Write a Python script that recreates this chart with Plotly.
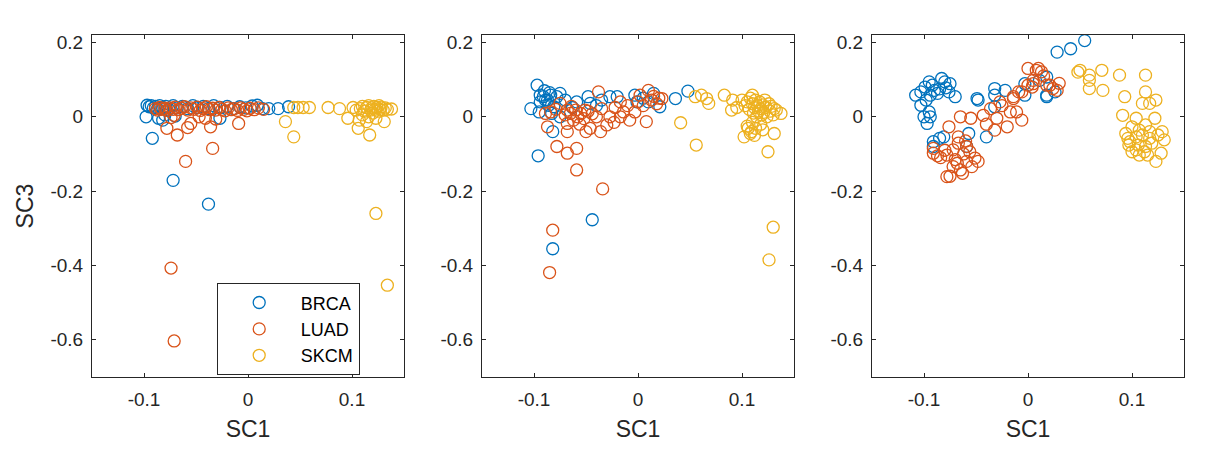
import plotly.graph_objects as go

# ---------------- data ----------------
series_names = ["BRCA", "LUAD", "SKCM"]
series_colors = ["#0072BD", "#D95319", "#EDB120"]

# Panel 1
p1_brca_x = [-0.097, -0.095, -0.093, -0.091, -0.089, -0.087, -0.085, -0.082, -0.079, -0.076, -0.072, -0.068,
             -0.063, -0.058, -0.053, -0.048, -0.043, -0.038, -0.033, -0.027, -0.020, -0.014, -0.008, -0.002,
             0.004, 0.009, 0.014, 0.020, 0.029, 0.039,
             -0.098, -0.086, -0.082, -0.080, -0.027, -0.070, -0.092, -0.072, -0.038]
p1_brca_y = [0.031, 0.027, 0.030, 0.024, 0.028, 0.022, 0.030, 0.025, 0.028, 0.020, 0.030, 0.024,
             0.028, 0.022, 0.030, 0.025, 0.028, 0.022, 0.030, 0.025, 0.028, 0.022, 0.027, 0.024,
             0.029, 0.031, 0.022, 0.022, 0.022, 0.027,
             0.000, -0.004, -0.009, 0.005, -0.004, 0.002, -0.058, -0.171, -0.235]

p1_luad_x = [-0.089, -0.087, -0.085, -0.083, -0.080, -0.078, -0.075, -0.072, -0.070, -0.067, -0.064, -0.061,
             -0.058, -0.055, -0.052, -0.049, -0.046, -0.043, -0.040, -0.037, -0.034, -0.031, -0.028, -0.025,
             -0.022, -0.019, -0.016, -0.013, -0.010, -0.007, -0.004, -0.001, 0.002, 0.006, 0.010, 0.015,
             -0.074, -0.071, -0.047, -0.041, -0.055, -0.078, -0.068, -0.058, -0.036, -0.034, -0.060, -0.009,
             -0.031, -0.074, -0.071]
p1_luad_y = [0.022, 0.018, 0.025, 0.020, 0.023, 0.017, 0.024, 0.020, 0.026, 0.019, 0.023, 0.027,
             0.018, 0.024, 0.020, 0.026, 0.017, 0.022, 0.027, 0.019, 0.023, 0.018, 0.025, 0.020,
             0.016, 0.024, 0.019, 0.022, 0.017, 0.024, 0.020, 0.016, 0.023, 0.019, 0.024, 0.020,
             -0.002, 0.004, 0.000, -0.004, -0.018, -0.031, -0.049, -0.029, -0.027, -0.085, -0.120, -0.018,
             -0.006, -0.407, -0.603]

p1_skcm_x = [0.036, 0.044, 0.044, 0.048, 0.053, 0.059, 0.077, 0.088, 0.096, 0.101, 0.104, 0.106, 0.107,
             0.108, 0.110, 0.112, 0.114, 0.114, 0.116, 0.117, 0.118, 0.119, 0.120, 0.121, 0.122, 0.123,
             0.124, 0.125, 0.126, 0.127, 0.128, 0.130, 0.131, 0.132, 0.134, 0.138, 0.110, 0.116, 0.123, 0.134]
p1_skcm_y = [-0.013, -0.054, 0.025, 0.025, 0.025, 0.025, 0.025, 0.022, -0.004, 0.025, 0.018, -0.031, -0.009,
             0.022, 0.028, 0.015, -0.013, 0.025, 0.030, -0.049, 0.018, 0.024, 0.010, 0.028, 0.020, -0.004,
             0.025, 0.015, 0.030, 0.020, 0.026, 0.018, -0.013, 0.024, 0.020, 0.021, 0.005, 0.000, -0.260, -0.453]

# Panel 2
p2_brca_x = [-0.097, -0.094, -0.091, -0.087, -0.094, -0.103, -0.095, -0.084, -0.078, -0.075, -0.070, -0.081,
             -0.059, -0.048, -0.046, -0.027, -0.020, -0.003, -0.001, 0.015, 0.021, -0.082, -0.096, 0.036,
             0.048, -0.089, -0.086, -0.083, -0.075, -0.063, -0.040, -0.035, 0.005, 0.010, -0.090, -0.085,
             -0.082, -0.044]
p2_brca_y = [0.085, 0.058, 0.054, 0.045, 0.040, 0.022, 0.013, 0.058, 0.054, 0.063, 0.045, 0.027,
             0.040, 0.054, 0.036, 0.054, 0.054, 0.058, 0.040, 0.063, 0.027, -0.040, -0.105, 0.049,
             0.069, 0.045, 0.031, 0.009, 0.000, 0.025, 0.030, 0.045, 0.050, 0.040, 0.070, 0.065,
             -0.355, -0.277]

p2_luad_x = [-0.038, -0.089, -0.084, -0.075, -0.068, -0.065, -0.060, -0.055, -0.051, -0.062, -0.068, -0.087,
             -0.068, -0.046, -0.036, -0.030, -0.035, -0.040, -0.027, -0.017, -0.014, -0.017, -0.008, 0.000,
             0.002, 0.008, 0.010, 0.013, 0.023, -0.003, -0.078, -0.068, -0.059, -0.059, -0.034, -0.082,
             -0.085, -0.070, -0.058, -0.052, -0.048, -0.044, -0.022, -0.010, 0.005, 0.015, 0.018, 0.020,
             -0.064, -0.079, -0.023, -0.056, -0.050]
p2_luad_y = [0.067, 0.009, 0.013, 0.036, 0.018, 0.009, 0.018, 0.009, 0.018, -0.009, -0.018, -0.027,
             -0.040, -0.031, -0.040, -0.022, 0.022, 0.000, 0.000, 0.040, 0.013, 0.000, -0.009, 0.040,
             0.058, -0.013, 0.071, 0.045, 0.049, 0.013, -0.080, -0.098, -0.085, -0.143, -0.194, -0.305,
             -0.419, 0.005, 0.000, -0.005, 0.015, 0.008, 0.025, 0.030, 0.030, 0.055, 0.035, 0.050,
             0.028, 0.020, -0.015, -0.020, -0.040]

p2_skcm_x = [0.055, 0.061, 0.066, 0.068, 0.083, 0.041, 0.056, 0.091, 0.090, 0.102, 0.125, 0.131, 0.131,
             0.133, 0.1375, 0.109, 0.113, 0.106,
             0.100, 0.103, 0.105, 0.107, 0.108, 0.110, 0.111, 0.112, 0.113, 0.114, 0.115, 0.116, 0.117,
             0.118, 0.119, 0.120, 0.121, 0.122, 0.123, 0.124, 0.126, 0.127, 0.128, 0.130, 0.110, 0.105,
             0.108, 0.118, 0.112, 0.120, 0.095, 0.110, 0.130, 0.126]
p2_skcm_y = [0.054, 0.058, 0.049, 0.036, 0.058, -0.016, -0.076, 0.045, 0.018, -0.054, -0.094, -0.045, 0.022,
             0.018, 0.009, -0.040, -0.031, -0.031,
             0.045, 0.030, 0.040, 0.020, 0.050, 0.035, 0.010, 0.025, 0.045, 0.000, 0.030, 0.015, 0.040,
             0.022, 0.005, 0.032, 0.012, 0.045, 0.025, 0.000, 0.035, 0.015, 0.028, 0.005, -0.015, -0.025,
             -0.045, -0.020, -0.050, -0.035, 0.025, 0.058, -0.297, -0.385]

# Panel 3
p3_brca_x = [0.028, 0.041, 0.0545,
             -0.108, -0.103, -0.099, -0.095, -0.098, -0.094, -0.090, -0.087, -0.083, -0.080, -0.075, -0.070,
             -0.076, -0.103, -0.100, -0.097, -0.094, -0.095, -0.092, -0.085, -0.079,
             -0.091, -0.085, -0.081, -0.091, -0.057, -0.040, -0.059,
             -0.049, -0.048, -0.032, -0.032, -0.022, -0.032, -0.003, -0.003, 0.018, 0.018, 0.011, 0.026, 0.018]
p3_brca_y = [0.174, 0.183, 0.205,
             0.058, 0.067, 0.080, 0.094, 0.045, 0.058, 0.071, 0.063, 0.103, 0.094, 0.089, 0.054,
             0.067, 0.031, 0.000, -0.018, 0.000, 0.013, 0.085, 0.075, 0.078,
             -0.067, -0.058, -0.054, -0.080, -0.045, -0.054, -0.080,
             0.049, 0.045, 0.076, 0.058, 0.071, 0.027, 0.089, 0.058, 0.107, 0.058, 0.098, 0.067, 0.054]

p3_luad_x = [-0.078, -0.063, -0.091, -0.091, -0.078, -0.072, -0.067, -0.067, -0.059, -0.056, -0.051, -0.059,
             -0.068, -0.072, -0.065, -0.054, -0.076, -0.065, -0.055, -0.043, -0.036, -0.030, -0.032, -0.020,
             -0.017, -0.011, -0.006, -0.027, -0.014, -0.009, 0.000, 0.008, 0.005, 0.018, 0.024, 0.028,
             0.004, 0.000, 0.010, 0.013, 0.005, 0.021, -0.006, -0.014,
             -0.084, -0.080, -0.062, -0.070, -0.048, -0.060, -0.040, -0.025, 0.015, 0.030, -0.087, -0.075]
p3_luad_y = [-0.161, -0.152, -0.098, -0.085, -0.103, -0.089, -0.071, -0.054, -0.080, -0.094, -0.111, -0.120,
             -0.125, -0.134, -0.143, -0.134, -0.027, 0.000, -0.004, 0.004, 0.022, -0.004, -0.036, -0.027,
             0.013, 0.013, -0.009, 0.040, 0.049, 0.067, 0.130, 0.125, 0.098, 0.085, 0.076, 0.071,
             0.080, 0.085, 0.130, 0.121, 0.089, 0.085, 0.067, 0.054,
             -0.110, -0.090, -0.100, -0.115, -0.120, -0.065, -0.020, 0.030, 0.110, 0.090, -0.105, -0.160]

p3_skcm_x = [0.050, 0.059, 0.059, 0.059, 0.071, 0.072, 0.088, 0.113, 0.093, 0.113, 0.123, 0.117, 0.110,
             0.091, 0.104, 0.122, 0.113, 0.100, 0.096, 0.098, 0.104, 0.110, 0.117, 0.125, 0.131, 0.129,
             0.106, 0.113, 0.119, 0.128, 0.112, 0.104, 0.123, 0.094, 0.107, 0.117, 0.097, 0.100, 0.107,
             0.115, 0.048]
p3_skcm_y = [0.125, 0.112, 0.098, 0.076, 0.125, 0.071, 0.112, 0.112, 0.054, 0.067, 0.045, 0.036, 0.036,
             0.004, -0.004, -0.004, -0.022, -0.027, -0.058, -0.067, -0.054, -0.049, -0.058, -0.049, -0.062,
             -0.040, -0.076, -0.080, -0.071, -0.098, -0.094, -0.089, -0.120, -0.045, -0.036, -0.040, -0.076,
             -0.094, -0.103, -0.103, 0.120]

panels = [
    [(p1_brca_x, p1_brca_y), (p1_luad_x, p1_luad_y), (p1_skcm_x, p1_skcm_y)],
    [(p2_brca_x, p2_brca_y), (p2_luad_x, p2_luad_y), (p2_skcm_x, p2_skcm_y)],
    [(p3_brca_x, p3_brca_y), (p3_luad_x, p3_luad_y), (p3_skcm_x, p3_skcm_y)],
]

x_tickvals = [-0.1, 0, 0.1]
x_ticktext = ["-0.1", "0", "0.1"]
y_tickvals = [0.2, 0, -0.2, -0.4, -0.6]
y_ticktext = ["0.2", "0", "-0.2", "-0.4", "-0.6"]
x_title = "SC1"
y_title = "SC3"

# ---------------- figure ----------------
FONT = "Liberation Sans, Arial, Helvetica, sans-serif"
AX = "#262626"
W, H = 1214, 452
ml, mr, mt, mb = 92, 30, 35, 75
pw = W - ml - mr
domains = [(0, 312 / pw), (390 / pw, 702 / pw), (780 / pw, 1.0)]

fig = go.Figure()
for i, panel in enumerate(panels):
    xa = "x" if i == 0 else f"x{i+1}"
    ya = "y" if i == 0 else f"y{i+1}"
    for j, (xs, ys) in enumerate(panel):
        fig.add_trace(go.Scatter(
            x=xs, y=ys, mode="markers", xaxis=xa, yaxis=ya,
            name=series_names[j], showlegend=(i == 0),
            cliponaxis=False,
            marker=dict(symbol="circle-open", size=12, color=series_colors[j],
                        line=dict(width=1.3, color=series_colors[j])),
        ))

common = dict(showline=True, linecolor=AX, linewidth=1, mirror="ticks", ticks="inside",
              ticklen=4, tickcolor=AX, tickwidth=1, showgrid=False, zeroline=False,
              tickfont=dict(family=FONT, size=19, color=AX))
layout = dict(
    width=W, height=H, margin=dict(l=ml, r=mr, t=mt, b=mb),
    paper_bgcolor="white", plot_bgcolor="white",
    font=dict(family=FONT, color=AX),
    legend=dict(x=(216.7 - ml) / pw, y=(377 - 283.3) / (H - mt - mb), xanchor="left", yanchor="top",
                bordercolor=AX, borderwidth=1, bgcolor="white", tracegroupgap=0,
                font=dict(family=FONT, size=18, color="#000000"), itemwidth=73),
)
for i in range(3):
    kx = "xaxis" if i == 0 else f"xaxis{i+1}"
    ky = "yaxis" if i == 0 else f"yaxis{i+1}"
    yid = "y" if i == 0 else f"y{i+1}"
    xid = "x" if i == 0 else f"x{i+1}"
    layout[kx] = dict(common, domain=list(domains[i]), anchor=yid, range=[-0.15, 0.15],
                      tickvals=x_tickvals, ticktext=x_ticktext, ticklabelstandoff=5,
                      title=dict(text=x_title, font=dict(family=FONT, size=23, color=AX), standoff=12))
    yd = dict(common, domain=[0, 1], anchor=xid, range=[-0.7, 0.22],
              tickvals=y_tickvals, ticktext=y_ticktext, ticklabelstandoff=4)
    if i == 0:
        yd["title"] = dict(text=y_title, font=dict(family=FONT, size=23, color=AX), standoff=10)
    layout[ky] = yd

fig.update_layout(**layout)
fig.write_html("out.html")
